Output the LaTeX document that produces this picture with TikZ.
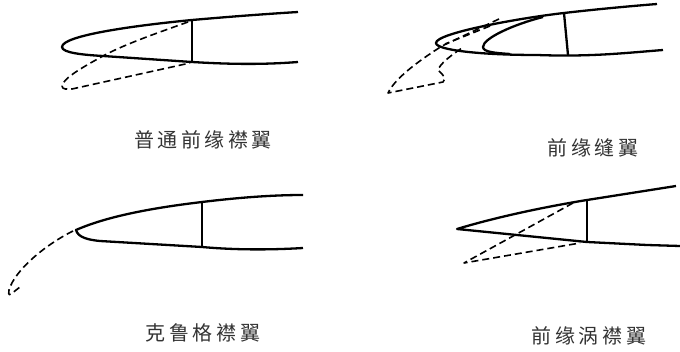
\documentclass[tikz,border=0pt]{standalone}
\usepackage{fontspec}
\usepackage{xcolor}
\newfontfamily\cjk[LetterSpace=18]{Noto Sans CJK SC}
\begin{document}
\begin{tikzpicture}[x=1pt,y=-1pt,
                    wing line/.style={line width=2.3pt,line join=round},
                    flap line/.style={line width=1.6pt,dash pattern=on 7pt off 4pt,line join=round},
                    label node/.style={font=\cjk\fontsize{20}{20}\selectfont,text=black!80,inner sep=0pt}]

  \useasboundingbox (0,0) rectangle (680,352);

  \draw[wing line] (298,12) .. controls (250,15) and (215,18) .. (192,20)
    .. controls (140,25) and (62,35) .. (62,47)
    .. controls (62,53) and (85,55) .. (103,56)
    -- (192,62) .. controls (225,64) and (260,65) .. (298,62);
  \draw[wing line] (192,20) -- (192,62);
  \draw[flap line] (188,22) .. controls (160,32) and (125,44) .. (103,56)
    .. controls (85,66) and (63,78) .. (62,86)
    .. controls (62,90) and (68,89) .. (72,89)
    -- (190,63);
  \node[label node] (plain) at (203,140) {普通前缘襟翼};

  \draw[wing line] (657,4) .. controls (620,7) and (590,10) .. (564,13)
    .. controls (520,18) and (436,33) .. (436,43)
    .. controls (436,50) and (480,55) .. (537,55)
    .. controls (590,57) and (625,53) .. (663,50);
  \draw[wing line] (543,17) .. controls (515,24) and (483,38) .. (483,47)
    .. controls (483,52) and (495,53) .. (510,54);
  \draw[wing line] (564,13) -- (568,55);
  \draw[flap line] (499,19) -- (442,46)
    .. controls (420,60) and (395,78) .. (388,93)
    -- (443,82) .. controls (447,78) and (443,75) .. (438,70)
    .. controls (440,64) and (450,56) .. (462,48);
  \draw[flap line] (490,26) -- (445,44);
  \node[label node] (slat) at (593,148) {前缘缝翼};

  \draw[wing line] (303,195) .. controls (270,195) and (235,198) .. (202,202)
    .. controls (160,207) and (110,215) .. (76,230)
    .. controls (78,238) and (90,240) .. (100,241)
    -- (202,247) .. controls (235,250) and (270,250) .. (303,248);
  \draw[wing line] (202,202) -- (202,247);
  \draw[flap line] (73,231) .. controls (45,245) and (15,270) .. (9,290)
    .. controls (8,296) and (10,295) .. (11,294)
    -- (20,287);
  \node[label node] (krueger) at (203,333) {克鲁格襟翼};

  \draw[wing line] (676,186) -- (587,200) .. controls (550,206) and (500,216) .. (457,229)
    -- (587,242) -- (647,245) -- (680,246);
  \draw[wing line] (587,200) -- (587,242);
  \draw[flap line] (573,203) -- (515,235) -- (464,263) -- (580,243);
  \node[label node] (vortex) at (589,336) {前缘涡襟翼};
\end{tikzpicture}
\end{document}
